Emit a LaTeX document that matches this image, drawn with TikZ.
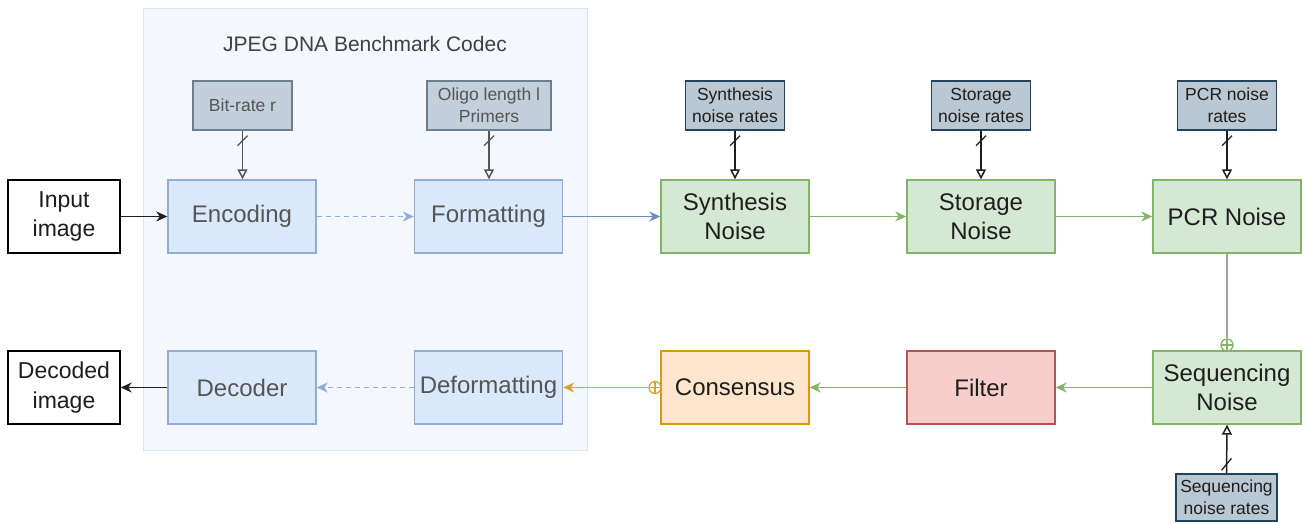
\documentclass[tikz,border=0pt]{standalone}
\usepackage{fontspec}
\setmainfont{Liberation Sans}
\usetikzlibrary{arrows.meta,calc}
\definecolor{codecbg}{HTML}{F4F7FC}
\definecolor{codecln}{HTML}{DCE3EB}
\definecolor{bluefill}{HTML}{DAE8FC}
\definecolor{blueln}{HTML}{8FACDA}
\definecolor{bluearr}{HTML}{6C8EBF}
\definecolor{greenfill}{HTML}{D5E8D4}
\definecolor{greenln}{HTML}{82B366}
\definecolor{orangefill}{HTML}{FFE6CC}
\definecolor{orangeln}{HTML}{D79B00}
\definecolor{orangearr}{HTML}{D6A52E}
\definecolor{redfill}{HTML}{F8CECC}
\definecolor{redln}{HTML}{B85450}
\definecolor{parfill}{HTML}{BAC8D3}
\definecolor{parln}{HTML}{23445D}
\definecolor{parfillf}{HTML}{C3CFDA}
\definecolor{parlnf}{HTML}{6A7F92}
\definecolor{fadetext}{HTML}{555555}
\definecolor{maintext}{HTML}{1E1E1E}
\definecolor{seqline}{HTML}{93AA90}
\tikzset{
  mainbox/.style={rectangle, minimum width=148pt, minimum height=73pt, inner sep=0pt, align=center,
    line width=1.4pt, text=maintext, font=\fontsize{24}{29.5}\selectfont},
  bluebox/.style={mainbox, fill=bluefill, draw=blueln, text=fadetext},
  greenbox/.style={mainbox, fill=greenfill, draw=greenln},
  orangebox/.style={mainbox, fill=orangefill, draw=orangeln},
  redbox/.style={mainbox, fill=redfill, draw=redln},
  iobox/.style={rectangle, minimum width=112pt, minimum height=73pt, inner sep=0pt, align=center,
    line width=1.4pt, draw=black, fill=white, text=maintext, font=\fontsize{23}{29.5}\selectfont},
  parbox/.style={rectangle, minimum width=99pt, minimum height=49pt, inner sep=0pt, align=center,
    line width=1.4pt, fill=parfill, draw=parln, text=maintext, font=\fontsize{17.5}{22}\selectfont},
  parboxf/.style={parbox, fill=parfillf, draw=parlnf, text=fadetext},
  arr/.style={line width=1.5pt, -{Stealth[length=11pt,width=10pt,inset=3.5pt]}},
  openarr/.style={line width=1.5pt, -{Triangle[length=10pt,width=10pt,fill=white]}},
  oplus/.style={circle, draw=#1, fill=white, line width=1.3pt, minimum size=12pt, inner sep=0pt,
    path picture={\draw[#1, line width=1.3pt] (path picture bounding box.north) -- (path picture bounding box.south)
      (path picture bounding box.west) -- (path picture bounding box.east);}},
}
\begin{document}
\begin{tikzpicture}[x=1pt,y=-1pt]
\useasboundingbox (0,0) rectangle (1303,523);
% codec container
\node[rectangle, fill=codecbg, draw=codecln, line width=1pt, minimum width=444pt, minimum height=442pt, inner sep=0pt] (codec) at (365,229) {};
\node[text=maintext!85, font=\fontsize{21}{24}\selectfont] (title) at (365,44) {JPEG DNA Benchmark Codec};

% main row boxes
\node[iobox] (input) at (64,216.5) {Input\\image};
\node[bluebox] (enc) at (242,216.5) {Encoding};
\node[bluebox] (fmt) at (488.5,216.5) {Formatting};
\node[greenbox] (syn) at (735,216.5) {Synthesis\\Noise};
\node[greenbox] (sto) at (981,216.5) {Storage\\Noise};
\node[greenbox] (pcr) at (1227,216.5) {PCR Noise};

\node[iobox] (decimg) at (64,387.5) {Decoded\\image};
\node[bluebox] (dec) at (242,387.5) {Decoder};
\node[bluebox] (defmt) at (488.5,387.5) {Deformatting};
\node[orangebox] (cons) at (735,387.5) {Consensus};
\node[redbox] (filt) at (981,387.5) {Filter};
\node[greenbox] (seq) at (1227,387.5) {Sequencing\\Noise};

% parameter boxes
\node[parboxf] (bit) at (242.5,105.5) {Bit-rate r};
\node[parboxf, minimum width=124pt] (oligo) at (489,105.5) {Oligo length l\\Primers};
\node[parbox] (synr) at (735,105.5) {Synthesis\\noise rates};
\node[parbox] (stor) at (981,105.5) {Storage\\noise rates};
\node[parbox] (pcrr) at (1227,105.5) {PCR noise\\rates};
\node[parbox, minimum width=101pt, minimum height=47pt] (seqr) at (1226.5,497.5) {Sequencing\\noise rates};

% parameter arrows
\draw[openarr, draw=fadetext] (bit.south) -- (bit.south |- enc.north);
\draw[line width=1.3pt, fadetext] ($(bit.south)+(-5,15)$) -- ($(bit.south)+(5,5)$);
\draw[openarr, draw=fadetext] (oligo.south) -- (oligo.south |- fmt.north);
\draw[line width=1.3pt, fadetext] ($(oligo.south)+(-5,15)$) -- ($(oligo.south)+(5,5)$);
\foreach \p/\t in {synr/syn, stor/sto, pcrr/pcr}{
  \draw[openarr, draw=maintext] (\p.south) -- (\t.north);
  \draw[line width=1.3pt, maintext] ($(\p.south)+(-5,15)$) -- ($(\p.south)+(5,5)$);
}
\draw[openarr, draw=maintext] (seqr.north) -- (seq.south);
\draw[line width=1.3pt, maintext] ($(seqr.north)+(-5,-3)$) -- ($(seqr.north)+(5,-15)$);

% main flow
\draw[arr, draw=maintext] (input.east) -- (enc.west);
\draw[arr, draw=blueln, dash pattern=on 5pt off 4pt] (enc.east) -- (fmt.west);
\draw[arr, draw=bluearr] (fmt.east) -- (syn.west);
\draw[arr, draw=greenln] (syn.east) -- (sto.west);
\draw[arr, draw=greenln] (sto.east) -- (pcr.west);
\node[oplus=greenln] (op1) at (1227,345) {};
\draw[line width=1.5pt, seqline] (pcr.south) -- (op1.north);
\draw[arr, draw=greenln] (seq.west) -- (filt.east);
\draw[arr, draw=greenln] (filt.west) -- (cons.east);
\node[oplus=orangearr] (op2) at (655,387.5) {};
\draw[arr, draw=orangearr] (op2.west) -- (defmt.east);
\draw[arr, draw=blueln, dash pattern=on 5pt off 4pt] (defmt.west) -- (dec.east);
\draw[arr, draw=maintext] (dec.west) -- (decimg.east);
\end{tikzpicture}
\end{document}
